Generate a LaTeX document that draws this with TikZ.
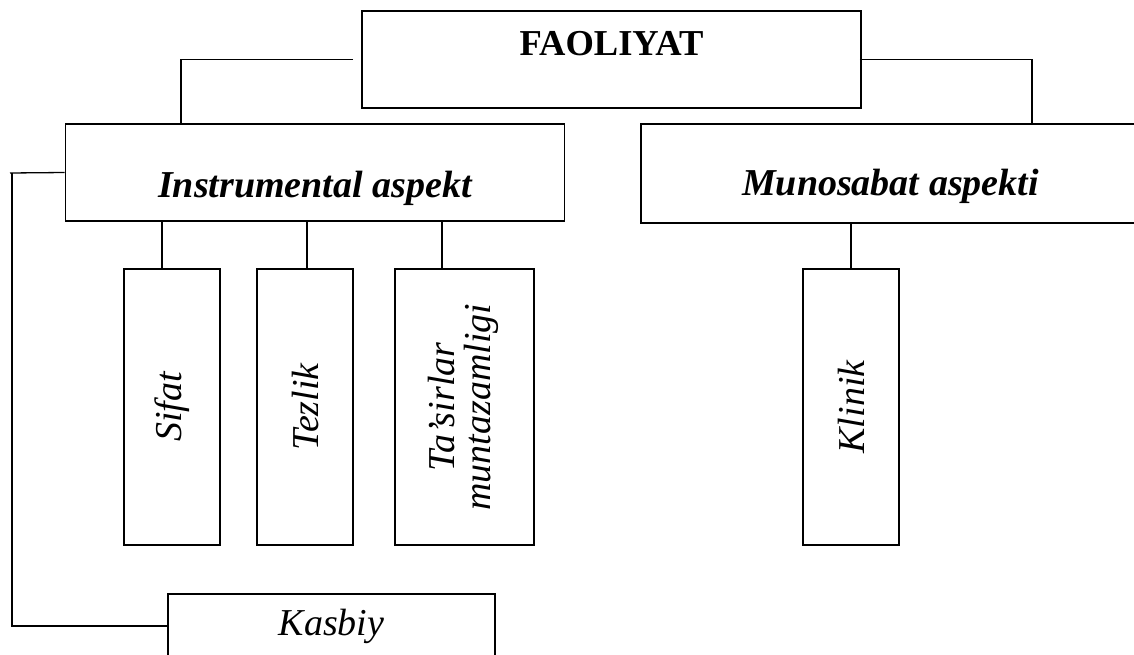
\documentclass[tikz,border=0pt]{standalone}
\usepackage{fontspec}
\setmainfont{Liberation Serif}
\usepackage{tikz}
\usetikzlibrary{positioning}

\begin{document}
\begin{tikzpicture}[x=1pt,y=-1pt,line width=1.3pt,
                    every node/.style={draw,line width=1.6pt,inner sep=0pt,
                    font=\fontsize{38}{42}\selectfont\itshape}]
  \tikzstyle{wide}=[minimum width=499pt,minimum height=97pt,font=\fontsize{38}{42}\selectfont\bfseries\itshape]
  \tikzstyle{tall}=[minimum width=96pt,minimum height=276pt]
  \useasboundingbox (0,0) rectangle (1134,655);

  \node[wide,minimum height=97pt,text height=10pt,text depth=17pt,
        font=\fontsize{36.5}{40}\selectfont\bfseries] (faol) at (611.5,59.5) {FAOLIYAT};
  \node[wide,text height=49pt,text depth=0pt] (instr) at (315,172.5) {Instrumental aspekt};
  \node[wide,minimum height=99pt,text height=45pt,text depth=0pt] (munos) at (890.5,173.5) {Munosabat aspekti};

  \node[tall] (sifat)  at (172,407)   {\rotatebox{90}{Sifat}};
  \node[tall] (tezlik) at (305,407)   {\rotatebox{90}{Tezlik}};
  \node[tall,minimum width=139pt] (tasir) at (464.5,407)
        {\rotatebox{90}{\begin{tabular}{@{}c@{}}Ta’sirlar\\[-6pt]muntazamligi\end{tabular}}};
  \node[tall] (klinik) at (851,407)   {\rotatebox{90}{Klinik}};

  \node[minimum width=327pt,minimum height=64pt,text height=18pt,text depth=0pt]
        (kasbiy) at (331.5,626) {Kasbiy};

  \coordinate (lft) at (10,173);

  \draw ([xshift=-8pt]faol.west) -| (instr.north -| 181,0);
  \draw ([xshift=-2pt]faol.east) -| (munos.north -| 1032,0);
  \foreach \x/\n in {162/sifat,307/tezlik,442/tasir}
    \draw (instr.south -| \x,0) -- (\n.north -| \x,0);
  \draw (munos.south -| klinik.north) -- (klinik.north);
  \draw (instr.west) -- (lft);
  \draw (lft -| 12,0) |- (kasbiy.west);
\end{tikzpicture}
\end{document}
